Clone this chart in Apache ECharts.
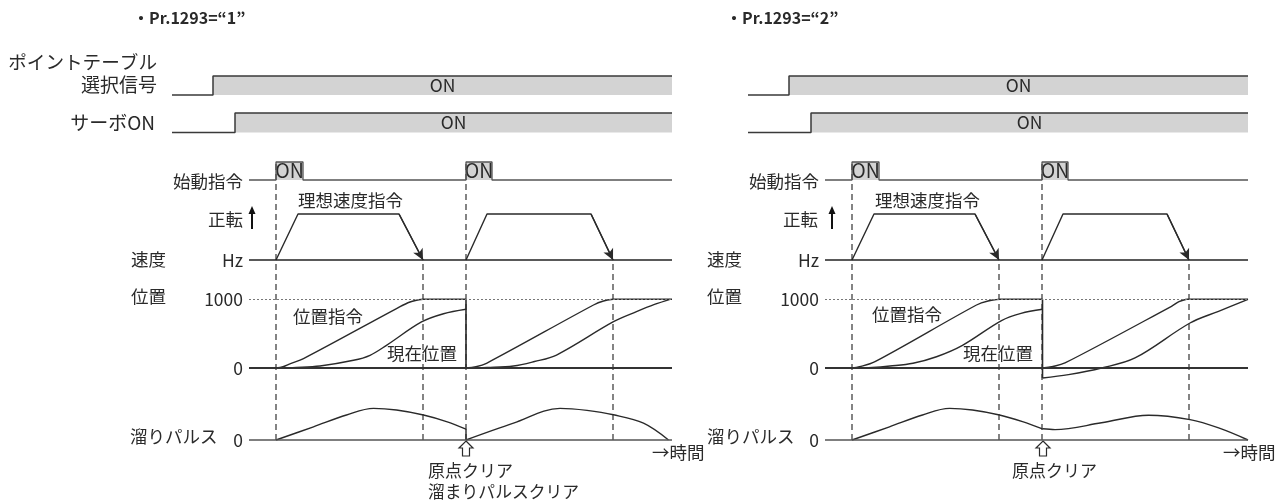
<!DOCTYPE html>
<html><head><meta charset="utf-8">
<script src="https://cdn.jsdelivr.net/npm/echarts@6/dist/echarts.min.js"></script>
<style>html,body{margin:0;padding:0;background:#fff}#c{width:1284px;height:504px}</style>
</head><body><div id="c"></div>
<script>
// ---------------- data (time in arbitrary units 0..100) ----------------
const timeEnd = 100;
const lowerStart = 15.4;          // where the lower signal rows begin
const selectRise = 8.2;           // ポイントテーブル選択信号 ON
const servoRise = 12.6;           // サーボON
const startPulses = [[20.8, 26.2], [58.8, 64.0]];   // 始動指令 ON
const speed1 = [[20.8, 0], [25.2, 1], [45.4, 1], [50.2, 0]];
const speed2 = [[58.8, 0], [63.0, 1], [83.8, 1], [88.2, 0]];
const dashFullAt = [20.8, 58.8];
const dashLowAt = [50.2, 88.2];
const posTicks = [0, 1000];

// Panel 1 : Pr.1293="1"
const p1Clear = 58.8;
const p1CmdA = [[20.8, 0], [22.2, 18], [23.7, 63], [26.3, 136], [44.9, 864], [47.6, 961], [50.2, 1000], [58.8, 1000]];
const p1ActA = [[20.8, 0], [24.9, 8], [29.6, 29], [36.3, 112], [39.6, 185], [42.9, 330], [49.9, 670], [54.3, 790], [58.8, 855]];
const p1CmdB = [[58.8, 0], [60.8, 18], [62.9, 68], [84.3, 917], [86.3, 975], [88.2, 1000], [100, 1000]];
const p1ActB = [[58.8, 0], [63.0, 8], [68.3, 29], [72.5, 95], [76.9, 189], [88.3, 674], [92.9, 820], [96.5, 925], [99.6, 1000]];
const p1DropPos = [1000, 0];
const p1DroopA = [[20.8, 0], [28.3, 0.33], [34.9, 0.625], [40.3, 0.79], [44.9, 0.75], [50.3, 0.625], [54.9, 0.46], [58.8, 0.27]];
const p1DroopB = [[58.8, 0], [68.3, 0.42], [77.6, 0.79], [83.0, 0.74], [88.3, 0.63], [94.3, 0.42], [99.3, 0]];
const p1DropDroop = [0.27, 0];

// Panel 2 : Pr.1293="2"
const p2Clear = 58.9;
const p2CmdA = [[20.8, 0], [22.3, 18], [25.4, 92], [45.7, 917], [48.0, 975], [50.4, 1000], [58.9, 1000]];
const p2ActA = [[20.8, 0], [24.9, 8], [28.4, 29], [33.0, 70], [37.7, 164], [42.9, 330], [50.7, 690], [54.6, 795], [58.9, 855]];
const p2CmdB = [[58.9, 0], [61.0, 22], [63.4, 73], [84.7, 898], [86.2, 965], [87.7, 1000], [100, 1000]];
const p2ActB = [[58.9, -146], [64.1, -97], [70.7, 0], [77.4, 146], [88.4, 655], [94.1, 825], [100, 1000]];
const p2DropPos = [1000, -146];
const p2DroopA = [[20.8, 0], [28.3, 0.33], [34.9, 0.625], [40.3, 0.79], [44.9, 0.75], [50.3, 0.625], [54.9, 0.46], [58.9, 0.28]];
const p2DroopB = [[58.9, 0.28], [61.4, 0.26], [70.7, 0.43], [80.1, 0.62], [88.4, 0.51], [94.4, 0.29], [100, 0]];

// ---------------- layout / style ----------------
const FONT = '"Noto Sans CJK JP", "Noto Sans", sans-serif';
const INK = '#2a2a2a';
const FILL = '#d3d3d3';
const panelX0 = [172, 748];
const PX = 5;

const grids = [], xAxes = [], yAxes = [], series = [];
function addGrid(p, xmin, top, height, ymin, ymax, label) {
  const gi = grids.length;
  grids.push({ left: panelX0[p] + xmin * PX, top: top, width: (timeEnd - xmin) * PX, height: height });
  xAxes.push({ gridIndex: gi, type: 'value', min: xmin, max: timeEnd, show: false });
  yAxes.push({
    gridIndex: gi, type: 'value', min: ymin, max: ymax, interval: ymax - ymin, show: !!label,
    axisLine: { show: false }, axisTick: { show: false }, splitLine: { show: false },
    axisLabel: { show: !!label, showMinLabel: true, showMaxLabel: true, margin: 6, color: INK, fontSize: 17.5, fontFamily: FONT, formatter: label || '' }
  });
  return gi;
}
function lineS(gi, data, extra) {
  return Object.assign({
    type: 'line', xAxisIndex: gi, yAxisIndex: gi, data: data, symbol: 'none', showSymbol: false,
    clip: false, silent: true, animation: false, lineStyle: { color: INK, width: 1.4 }
  }, extra || {});
}
// smooth curve part + straight plateau part (plateau = consecutive equal values at the end)
function curveS(gi, data, extra) {
  let k = data.length - 1;
  while (k > 0 && data[k - 1][1] === data[k][1]) k--;
  const out = [lineS(gi, data.slice(0, k + 1), Object.assign({ smooth: 0.35 }, extra || {}))];
  if (k < data.length - 1) out.push(lineS(gi, data.slice(k)));
  return out;
}
function onArea(ranges, size) {
  return {
    silent: true, itemStyle: { color: FILL },
    label: { show: true, position: 'inside', color: INK, fontSize: size || 17.5, fontFamily: FONT, formatter: 'ON' },
    data: ranges.map(r => [{ coord: [r[0], 0] }, { coord: [r[1], 1] }])
  };
}
function hLine(y, style) {
  return { yAxis: y, lineStyle: style };
}

const panels = [
  { clear: p1Clear, cmdA: p1CmdA, actA: p1ActA, cmdB: p1CmdB, actB: p1ActB, dropPos: p1DropPos,
    droopA: p1DroopA, droopB: p1DroopB, dropDroop: p1DropDroop },
  { clear: p2Clear, cmdA: p2CmdA, actA: p2ActA, cmdB: p2CmdB, actB: p2ActB, dropPos: p2DropPos,
    droopA: p2DroopA, droopB: p2DroopB, dropDroop: null }
];

panels.forEach((P, p) => {
  // select signal
  let gi = addGrid(p, 0, 76, 19, 0, 1);
  series.push(lineS(gi, [[0, 0], [selectRise, 0], [selectRise, 1], [timeEnd, 1]],
    { lineStyle: { color: '#3a3a3a', width: 1.5 }, markArea: onArea([[selectRise, timeEnd]]) }));
  // servo ON
  gi = addGrid(p, 0, 113, 19.5, 0, 1);
  series.push(lineS(gi, [[0, 0], [servoRise, 0], [servoRise, 1], [timeEnd, 1]],
    { lineStyle: { color: '#3a3a3a', width: 1.5 }, markArea: onArea([[servoRise, timeEnd]]) }));
  // start command
  gi = addGrid(p, lowerStart, 162, 18, 0, 1);
  const st = [[lowerStart, 0]];
  startPulses.forEach(([a, b]) => { st.push([a, 0], [a, 1], [b, 1], [b, 0]); });
  st.push([timeEnd, 0]);
  series.push(lineS(gi, st, {
    lineStyle: { color: '#555', width: 1.3 }, markArea: onArea(startPulses, 19.5),
    markLine: { silent: true, symbol: ['none', 'arrow'], symbolSize: [6, 7], label: { show: false },
      lineStyle: { color: '#444', width: 1.3, type: 'solid' },
      data: startPulses.map(([a]) => [{ coord: [a, 0] }, { coord: [a, 1.12] }]) }
  }));
  // speed
  gi = addGrid(p, lowerStart, 214, 46, 0, 1, v => (v === 0 ? 'Hz' : ''));
  series.push(lineS(gi, speed1, {
    markLine: { silent: true, symbol: ['none', 'none'], label: { show: false },
      data: [hLine(0, { color: '#222', width: 1.5, type: 'solid' })] }
  }));
  series.push(lineS(gi, speed2, {
    markLine: { silent: true, symbol: ['none', 'arrow'], symbolSize: [8, 11], label: { show: false },
      lineStyle: { color: INK, width: 1.4, type: 'solid' },
      data: [speed1, speed2].map(s => [{ coord: s[2] }, { coord: s[3] }]) }
  }));
  // position
  gi = addGrid(p, lowerStart, 299.3, 68.7, posTicks[0], posTicks[1], v => String(v));
  series.push(lineS(gi, [], {
    markLine: { silent: true, symbol: ['none', 'none'], label: { show: false },
      data: [hLine(posTicks[1], { color: '#777', width: 1, type: [2, 2] }),
             hLine(posTicks[0], { color: '#333', width: 2, type: 'solid' })] }
  }));
  series.push(...curveS(gi, P.cmdA));
  series.push(...curveS(gi, P.actA));
  series.push(...curveS(gi, P.cmdB));
  series.push(...curveS(gi, P.actB));
  series.push(lineS(gi, [[P.clear, P.dropPos[0]], [P.clear, P.dropPos[1]]], { lineStyle: { color: INK, width: 1.6 } }));
  // droop pulses
  gi = addGrid(p, lowerStart, 400, 40, 0, 1, v => (v === 0 ? '0' : ''));
  series.push(lineS(gi, P.droopA, {
    smooth: 0.35,
    markLine: { silent: true, symbol: ['none', 'none'], label: { show: false },
      data: [hLine(0, { color: '#555', width: 1.5, type: 'solid' })] }
  }));
  series.push(lineS(gi, P.droopB, { smooth: 0.35 }));
  if (P.dropDroop) series.push(lineS(gi, [[P.clear, P.dropDroop[0]], [P.clear, P.dropDroop[1]]]));
  // dashed guides
  const dash = { color: '#333', width: 1.2, type: [6, 4] };
  gi = addGrid(p, lowerStart, 162, 278, 0, 1);
  dashFullAt.forEach(t => series.push(lineS(gi, [[t, 0], [t, 1]], { lineStyle: dash, z: 1 })));
  gi = addGrid(p, lowerStart, 260, 180, 0, 1);
  dashLowAt.forEach(t => series.push(lineS(gi, [[t, 0], [t, 1]], { lineStyle: dash, z: 1 })));
});

// ---------------- text annotations ----------------
function txt(text, x, y, align, size) {
  return { type: 'text', silent: true, z: 10, style: { text: text, x: x, y: y, fill: INK,
    font: (size || 17.5) + 'px ' + FONT, textAlign: align || 'left', textVerticalAlign: 'middle' } };
}
const graphic = [
  txt('ポイントテーブル', 157, 62, 'right', 18.6),
  txt('選択信号', 157, 85, 'right', 19),
  txt('サーボON', 155, 123, 'right', 19),
  txt('溜まりパルスクリア', 428, 492, 'left', 16.8)
];
const labX = [
  { start: 243, fwd: 243, arrow: 252, ideal: 298, speed: 131, pos: 131, cmd: 293, cmdY: 316, act: 387, droop: 130, clr: 466, clrT: 428, time: 652 },
  { start: 819, fwd: 818, arrow: 832, ideal: 875, speed: 707, pos: 707, cmd: 872, cmdY: 314, act: 963, droop: 707, clr: 1043, clrT: 1012, time: 1223 }
];
labX.forEach(L => {
  graphic.push(
    txt('始動指令', L.start, 181, 'right'),
    txt('正転', L.fwd, 219, 'right'),
    txt('理想速度指令', L.ideal, 200, 'left'),
    txt('速度', L.speed, 259, 'left'),
    txt('位置', L.pos, 296, 'left'),
    txt('位置指令', L.cmd, L.cmdY, 'left'),
    txt('現在位置', L.act, 353, 'left'),
    txt('溜りパルス', L.droop, 436, 'left'),
    txt('原点クリア', L.clrT, 471, 'left', 17),
    txt('→時間', L.time, 452, 'left'),
    { type: 'line', silent: true, shape: { x1: L.arrow, y1: 229, x2: L.arrow, y2: 212 }, style: { stroke: '#111', lineWidth: 2 } },
    { type: 'polygon', silent: true, shape: { points: [[L.arrow, 206], [L.arrow - 3.5, 214], [L.arrow + 3.5, 214]] }, style: { fill: '#111' } },
    { type: 'polygon', silent: true, shape: { points: [[L.clr, 441], [L.clr + 7, 448], [L.clr + 3.5, 448], [L.clr + 3.5, 456], [L.clr - 3.5, 456], [L.clr - 3.5, 448], [L.clr - 7, 448]] },
      style: { fill: '#fff', stroke: INK, lineWidth: 1.2 } }
  );
});

const titleRich = {
  a: { fontSize: 16, fontFamily: FONT, color: INK },
  b: { fontSize: 16, fontFamily: FONT, color: INK, fontWeight: 'bold' }
};
const chart = echarts.init(document.getElementById('c'));
chart.setOption({
  backgroundColor: '#fff',
  animation: false,
  title: [
    { left: 128, top: 5, text: '{a|・}{b|Pr.1293}{a|=“1”}', textStyle: { rich: titleRich } },
    { left: 721, top: 5, text: '{a|・}{b|Pr.1293}{a|=“2”}', textStyle: { rich: titleRich } }
  ],
  grid: grids, xAxis: xAxes, yAxis: yAxes, series: series, graphic: graphic
});
</script></body></html>
